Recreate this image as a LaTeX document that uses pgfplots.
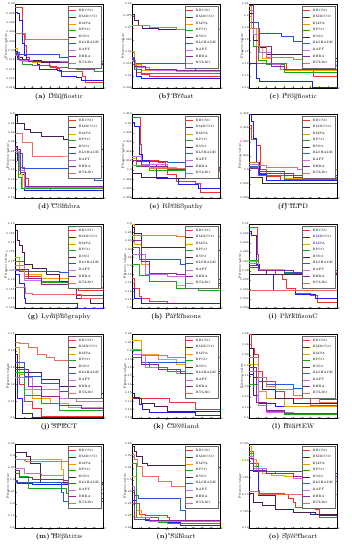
\documentclass[border=0pt]{standalone}
\usepackage{pgfplots}
\pgfplotsset{compat=1.18}
\usepgfplotslibrary{groupplots}
\definecolor{c1}{RGB}{240,50,50}
\definecolor{c2}{RGB}{30,30,240}
\definecolor{c3}{RGB}{240,160,0}
\definecolor{c4}{RGB}{20,170,20}
\definecolor{c5}{RGB}{70,30,80}
\definecolor{c6}{RGB}{40,90,210}
\definecolor{c7}{RGB}{200,110,230}
\definecolor{c8}{RGB}{140,40,150}
\definecolor{c9}{RGB}{230,110,90}
\pgfplotscreateplotcyclelist{algs}{{c1},{c2},{c3},{c4},{c5},{c6},{c7},{c8},{c9}}
\newcommand{\leg}{\legend{BBCSO,BMBCSO,BMPA,BPSO,BSSO,BLSHADE,BAFT,BHBA,BTLBO}}
\newcommand{\subcap}[2]{\textbf{(#1)}~#2}
\begin{document}
\begin{tikzpicture}
\begin{groupplot}[
  group style={group size=3 by 5, horizontal sep=29pt, vertical sep=26pt},
  scale only axis, width=88pt, height=84pt,
  xmin=0, xmax=100, xtick={0,10,...,100},
  cycle list name=algs,
  every axis plot/.append style={const plot, no markers, line width=0.45pt},
  axis line style={line width=0.3pt},
  major tick length=1.5pt, tick style={line width=0.25pt},
  /pgf/number format/assume math mode=true,
  tick label style={font=\fontsize{2.8}{3}\selectfont, inner sep=0.4pt},
  xlabel={Iteration}, ylabel={Fitness value},
  label style={font=\fontsize{3.2}{3.6}\selectfont},
  xlabel style={at={(0.5,0)}, anchor=north, yshift=-5pt, inner sep=0.2pt},
  ylabel style={yshift=-4.8pt},
  xtick pos=left, ytick pos=left,
  xticklabel style={yshift=0.5pt}, yticklabel style={xshift=0.4pt},
  scaled y ticks=false,
  yticklabel style={/pgf/number format/fixed, /pgf/number format/precision=3},
  legend cell align=left,
  legend style={at={(0.985,0.975)}, anchor=north east, font=\fontsize{3.2}{3.6}\selectfont,
    inner sep=0.6pt, row sep=-1.2pt, draw=black!60, line width=0.25pt},
  legend image code/.code={\draw[#1] (0pt,0pt) -- (7pt,0pt);},
  title style={at={(0.5,0)}, anchor=north, yshift=-11.2pt, inner sep=0pt, font=\fontsize{6.6}{7.2}\selectfont},
]
% (a) Diagnostic
\nextgroupplot[ymin=0.012, ymax=0.030, ytick={0.012,0.014,...,0.0301}, title={\subcap{a}{Diagnostic}}]
\addplot coordinates {(0,0.0294)(7,0.0294)(8,0.0236)(10,0.0212)(13,0.0185)(16,0.0178)(38,0.0178)(39,0.0166)(47,0.0162)(50,0.0156)(74,0.0156)(76,0.0145)(80,0.0133)(100,0.0133)};
\addplot coordinates {(0,0.0283)(3,0.0280)(5,0.0265)(8,0.0215)(10,0.0190)(13,0.0178)(25,0.0172)(28,0.0160)(48,0.0158)(52,0.0145)(70,0.0143)(75,0.0136)(100,0.0135)};
\addplot coordinates {(0,0.0205)(2,0.0195)(4,0.0185)(8,0.0178)(20,0.0175)(60,0.0172)(100,0.0170)};
\addplot coordinates {(0,0.0195)(3,0.0182)(8,0.0172)(20,0.0168)(40,0.0165)(70,0.0160)(90,0.0156)(100,0.0156)};
\addplot coordinates {(0,0.0198)(3,0.0185)(8,0.0180)(30,0.0176)(70,0.0172)(100,0.0170)};
\addplot coordinates {(0,0.0197)(5,0.0193)(35,0.0192)(50,0.0186)(75,0.0177)(100,0.0174)};
\addplot coordinates {(0,0.0190)(5,0.0180)(20,0.0177)(60,0.0174)(100,0.0171)};
\addplot coordinates {(0,0.0192)(4,0.0182)(15,0.0178)(50,0.0176)(80,0.0173)(100,0.0172)};
\addplot coordinates {(0,0.0238)(10,0.0238)(12,0.0225)(100,0.0225)};
\leg
% (b) Breast
\nextgroupplot[ymin=0.045, ymax=0.08, ytick={0.045,0.05,...,0.0801}, title={\subcap{b}{Breast}}]
\addplot coordinates {(0,0.0570)(2,0.0550)(5,0.0514)(10,0.0507)(20,0.0500)(100,0.0500)};
\addplot coordinates {(0,0.0568)(2,0.0540)(5,0.0500)(10,0.0492)(100,0.0492)};
\addplot coordinates {(0,0.0604)(2,0.0604)(3,0.0547)(10,0.0525)(50,0.0520)(100,0.0516)};
\addplot coordinates {(0,0.0560)(3,0.0530)(10,0.0512)(100,0.0510)};
\addplot coordinates {(0,0.0757)(2,0.0757)(3,0.0733)(7,0.0712)(12,0.0700)(30,0.0695)(100,0.0688)};
\addplot coordinates {(0,0.0580)(3,0.0554)(60,0.0554)(65,0.0540)(72,0.0526)(100,0.0524)};
\addplot coordinates {(0,0.0565)(4,0.0535)(20,0.0525)(100,0.0520)};
\addplot coordinates {(0,0.0575)(3,0.0540)(15,0.0528)(50,0.0522)(100,0.0522)};
\addplot coordinates {(0,0.0711)(20,0.0702)(50,0.0695)(100,0.0686)};
\leg
% (c) Prognostic
\nextgroupplot[ymin=0.14, ymax=0.21, ytick={0.14,0.15,...,0.2101}, title={\subcap{c}{Prognostic}}]
\addplot coordinates {(0,0.205)(3,0.19)(8,0.161)(40,0.161)(42,0.155)(72,0.155)(73,0.150)(100,0.150)};
\addplot coordinates {(0,0.161)(5,0.161)(8,0.1485)(12,0.1457)(70,0.1457)(72,0.1410)(100,0.1410)};
\addplot coordinates {(0,0.208)(3,0.19)(8,0.175)(15,0.165)(25,0.158)(40,0.155)(100,0.154)};
\addplot coordinates {(0,0.195)(5,0.175)(10,0.163)(20,0.160)(40,0.153)(100,0.153)};
\addplot coordinates {(0,0.202)(5,0.18)(10,0.174)(20,0.168)(68,0.168)(70,0.165)(100,0.165)};
\addplot coordinates {(0,0.195)(10,0.186)(35,0.186)(37,0.183)(50,0.179)(60,0.171)(70,0.162)(80,0.159)(100,0.155)};
\addplot coordinates {(0,0.205)(5,0.185)(12,0.170)(25,0.160)(35,0.156)(100,0.155)};
\addplot coordinates {(0,0.209)(5,0.19)(12,0.175)(25,0.158)(40,0.156)(100,0.155)};
\addplot coordinates {(0,0.19)(10,0.175)(20,0.166)(50,0.164)(75,0.162)(100,0.162)};
\leg
% (d) Coimbra
\nextgroupplot[ymin=0.12, ymax=0.30, ytick={0.12,0.14,...,0.301}, title={\subcap{d}{Coimbra}}]
\addplot coordinates {(0,0.228)(2,0.215)(4,0.200)(6,0.185)(10,0.162)(15,0.142)(38,0.142)(40,0.137)(100,0.137)};
\addplot coordinates {(0,0.23)(3,0.20)(6,0.17)(10,0.137)(100,0.137)};
\addplot coordinates {(0,0.22)(4,0.17)(8,0.140)(100,0.140)};
\addplot coordinates {(0,0.215)(4,0.165)(7,0.141)(100,0.140)};
\addplot coordinates {(0,0.298)(3,0.280)(10,0.268)(17,0.262)(30,0.252)(45,0.252)(55,0.245)(70,0.236)(92,0.236)(93,0.225)(100,0.222)};
\addplot coordinates {(0,0.215)(8,0.184)(65,0.184)(75,0.173)(88,0.173)(90,0.159)(100,0.159)};
\addplot coordinates {(0,0.22)(5,0.18)(10,0.144)(100,0.144)};
\addplot coordinates {(0,0.225)(6,0.175)(12,0.145)(100,0.145)};
\addplot coordinates {(0,0.258)(7,0.258)(8,0.239)(20,0.210)(88,0.210)(90,0.188)(100,0.188)};
\leg
% (e) Retinopathy
\nextgroupplot[ymin=0.294, ymax=0.312, ytick={0.294,0.296,...,0.3121}, title={\subcap{e}{Retinopathy}}]
\addplot coordinates {(0,0.3113)(8,0.3113)(9,0.3056)(11,0.3020)(30,0.3016)(38,0.3005)(40,0.2990)(50,0.2975)(72,0.2971)(78,0.2953)(100,0.2953)};
\addplot coordinates {(0,0.3102)(3,0.3093)(8,0.3034)(12,0.3020)(20,0.3013)(28,0.2982)(50,0.2982)(52,0.2969)(75,0.2960)(100,0.2957)};
\addplot coordinates {(0,0.3025)(5,0.3010)(20,0.3005)(50,0.3000)(100,0.2995)};
\addplot coordinates {(0,0.3030)(5,0.3008)(20,0.3000)(60,0.2997)(100,0.2994)};
\addplot coordinates {(0,0.2993)(10,0.2985)(40,0.2982)(100,0.2979)};
\addplot coordinates {(0,0.3020)(5,0.3018)(40,0.3017)(60,0.3010)(80,0.3005)(100,0.2998)};
\addplot coordinates {(0,0.3030)(10,0.3012)(40,0.3003)(100,0.2997)};
\addplot coordinates {(0,0.3020)(10,0.3008)(40,0.3002)(100,0.2996)};
\addplot coordinates {(0,0.3010)(20,0.3003)(60,0.3000)(100,0.2999)};
\leg
% (f) ILPD
\nextgroupplot[ymin=0.296, ymax=0.308, ytick={0.296,0.298,...,0.3081}, title={\subcap{f}{ILPD}}]
\addplot coordinates {(0,0.3064)(3,0.3044)(8,0.3036)(13,0.3001)(20,0.2991)(35,0.2986)(100,0.2983)};
\addplot coordinates {(0,0.3079)(3,0.3070)(5,0.3046)(8,0.3011)(12,0.2994)(20,0.2986)(100,0.2980)};
\addplot coordinates {(0,0.3011)(10,0.2995)(40,0.2988)(100,0.2986)};
\addplot coordinates {(0,0.3004)(10,0.2993)(40,0.2987)(100,0.2985)};
\addplot coordinates {(0,0.2989)(15,0.2981)(100,0.2980)};
\addplot coordinates {(0,0.3005)(10,0.2998)(40,0.2992)(100,0.2990)};
\addplot coordinates {(0,0.3008)(10,0.2996)(50,0.2990)(100,0.2988)};
\addplot coordinates {(0,0.3002)(10,0.2995)(50,0.2989)(100,0.2987)};
\addplot coordinates {(0,0.3011)(10,0.3007)(20,0.3004)(55,0.3001)(100,0.3000)};
\leg
% (g) Lymphography
\nextgroupplot[ymin=0.145, ymax=0.19, ytick={0.145,0.15,...,0.1901}, title={\subcap{g}{Lymphography}}]
\addplot coordinates {(0,0.1650)(10,0.1620)(30,0.1595)(68,0.1590)(72,0.1547)(100,0.1543)};
\addplot coordinates {(0,0.1630)(5,0.1584)(10,0.1501)(12,0.1474)(70,0.1474)(71,0.1450)(100,0.1450)};
\addplot coordinates {(0,0.1720)(5,0.1650)(10,0.1630)(30,0.1611)(70,0.1584)(90,0.1556)(100,0.1529)};
\addplot coordinates {(0,0.1700)(10,0.1610)(30,0.1590)(70,0.1560)(100,0.1547)};
\addplot coordinates {(0,0.1867)(3,0.1812)(5,0.1785)(8,0.1748)(11,0.1684)(20,0.1665)(35,0.1630)(50,0.1593)(70,0.1501)(85,0.1474)(100,0.1465)};
\addplot coordinates {(0,0.1650)(5,0.1648)(45,0.1648)(50,0.1639)(70,0.1620)(100,0.1584)};
\addplot coordinates {(0,0.1680)(10,0.1600)(30,0.1580)(70,0.1560)(100,0.1538)};
\addplot coordinates {(0,0.1660)(15,0.1611)(30,0.1580)(70,0.1520)(100,0.1492)};
\addplot coordinates {(0,0.1560)(10,0.1560)(12,0.1530)(20,0.1525)(75,0.1501)(100,0.1490)};
\leg
% (h) Parkinsons
\nextgroupplot[ymin=0.1, ymax=0.3, ytick={0.1,0.12,...,0.301}, title={\subcap{h}{Parkinsons}}]
\addplot coordinates {(0,0.1715)(3,0.1465)(8,0.1286)(10,0.1237)(20,0.1156)(40,0.1107)(100,0.1107)};
\addplot coordinates {(0,0.1470)(3,0.1230)(10,0.1107)(100,0.1107)};
\addplot coordinates {(0,0.299)(3,0.253)(10,0.204)(20,0.1627)(50,0.1546)(90,0.1465)(100,0.1189)};
\addplot coordinates {(0,0.204)(8,0.1790)(20,0.1627)(50,0.1465)(75,0.1424)(100,0.1367)};
\addplot coordinates {(0,0.2935)(3,0.2772)(10,0.2447)(60,0.2447)(62,0.2366)(100,0.2366)};
\addplot coordinates {(0,0.2447)(7,0.2447)(8,0.2163)(50,0.2163)(55,0.2041)(70,0.1878)(85,0.1675)(100,0.1675)};
\addplot coordinates {(0,0.2285)(15,0.1796)(40,0.1755)(60,0.1552)(100,0.1471)};
\addplot coordinates {(0,0.2610)(10,0.2122)(20,0.1837)(50,0.1796)(75,0.1594)(100,0.1512)};
\addplot coordinates {(0,0.2732)(50,0.2720)(100,0.2710)};
\leg
% (i) ParkinsonC
\nextgroupplot[ymin=0.052, ymax=0.07, ytick={0.052,0.054,...,0.0701}, title={\subcap{i}{ParkinsonC}}]
\addplot coordinates {(0,0.0693)(8,0.0693)(9,0.0636)(11,0.0600)(30,0.0592)(38,0.0581)(42,0.0563)(52,0.0552)(70,0.0548)(78,0.0533)(100,0.0529)};
\addplot coordinates {(0,0.0685)(3,0.0676)(8,0.0614)(12,0.0600)(20,0.0592)(28,0.0559)(50,0.0559)(52,0.0550)(75,0.0541)(100,0.0537)};
\addplot coordinates {(0,0.0620)(10,0.0603)(40,0.0597)(100,0.0593)};
\addplot coordinates {(0,0.0622)(10,0.0601)(40,0.0595)(100,0.0592)};
\addplot coordinates {(0,0.0592)(50,0.0592)(100,0.0590)};
\addplot coordinates {(0,0.0608)(10,0.0601)(40,0.0597)(70,0.0600)(100,0.0594)};
\addplot coordinates {(0,0.0615)(10,0.0600)(50,0.0595)(100,0.0592)};
\addplot coordinates {(0,0.0612)(10,0.0600)(50,0.0594)(100,0.0591)};
\addplot coordinates {(0,0.0559)(100,0.0559)};
\leg
% (j) SPECT
\nextgroupplot[ymin=0.1, ymax=0.15, ytick={0.1,0.11,...,0.1501}, title={\subcap{j}{SPECT}}]
\addplot coordinates {(0,0.1423)(5,0.1199)(10,0.1098)(20,0.1057)(30,0.1012)(100,0.1006)};
\addplot coordinates {(0,0.1382)(3,0.1118)(8,0.1027)(20,0.1002)(100,0.1002)};
\addplot coordinates {(0,0.1423)(5,0.1260)(10,0.1169)(20,0.1118)(40,0.1087)(60,0.1067)(100,0.1047)};
\addplot coordinates {(0,0.1270)(10,0.1138)(30,0.1087)(50,0.1047)(100,0.1027)};
\addplot coordinates {(0,0.1301)(10,0.1270)(30,0.1230)(50,0.1189)(70,0.1169)(90,0.1148)(100,0.1138)};
\addplot coordinates {(0,0.1331)(10,0.1250)(30,0.1209)(50,0.1159)(80,0.1118)(100,0.1108)};
\addplot coordinates {(0,0.1240)(20,0.1169)(50,0.1118)(70,0.1098)(100,0.1057)};
\addplot coordinates {(0,0.1291)(15,0.1189)(30,0.1128)(50,0.1077)(75,0.1057)(100,0.1030)};
\addplot coordinates {(0,0.1453)(5,0.1443)(15,0.1423)(25,0.1382)(35,0.1362)(45,0.1341)(60,0.1331)(70,0.1321)(80,0.1311)(100,0.1301)};
\leg
% (k) Cleveland
\nextgroupplot[ymin=0.12, ymax=0.22, ytick={0.12,0.13,...,0.2201}, title={\subcap{k}{Cleveland}}]
\addplot coordinates {(0,0.1435)(40,0.1435)(42,0.1386)(70,0.1386)(72,0.1305)(100,0.1305)};
\addplot coordinates {(0,0.1443)(8,0.1362)(12,0.1301)(20,0.1268)(70,0.1268)(72,0.1228)(100,0.1228)};
\addplot coordinates {(0,0.2127)(10,0.1963)(30,0.1902)(50,0.1841)(80,0.1760)(100,0.1719)};
\addplot coordinates {(0,0.2004)(10,0.1861)(20,0.1800)(40,0.1760)(70,0.1739)(100,0.1719)};
\addplot coordinates {(0,0.1492)(3,0.1435)(10,0.1374)(25,0.1345)(40,0.1280)(100,0.1272)};
\addplot coordinates {(0,0.1922)(10,0.1861)(60,0.1861)(65,0.1800)(95,0.1760)(100,0.1650)};
\addplot coordinates {(0,0.1963)(15,0.1800)(30,0.1780)(50,0.1739)(100,0.1719)};
\addplot coordinates {(0,0.2024)(10,0.1841)(30,0.1780)(55,0.1739)(100,0.1727)};
\addplot coordinates {(0,0.2024)(10,0.1943)(40,0.1922)(100,0.1902)};
\leg
% (l) HeartEW
\nextgroupplot[ymin=0.1, ymax=0.26, ytick={0.1,0.12,...,0.261}, title={\subcap{l}{HeartEW}}]
\addplot coordinates {(0,0.259)(3,0.232)(6,0.222)(10,0.190)(15,0.170)(30,0.151)(40,0.138)(70,0.125)(100,0.122)};
\addplot coordinates {(0,0.183)(5,0.144)(10,0.128)(30,0.123)(100,0.120)};
\addplot coordinates {(0,0.203)(10,0.151)(20,0.138)(40,0.122)(100,0.112)};
\addplot coordinates {(0,0.164)(10,0.125)(20,0.112)(40,0.107)(100,0.107)};
\addplot coordinates {(0,0.232)(5,0.177)(15,0.154)(30,0.138)(50,0.128)(100,0.125)};
\addplot coordinates {(0,0.216)(10,0.170)(20,0.164)(40,0.164)(50,0.157)(80,0.135)(100,0.127)};
\addplot coordinates {(0,0.190)(10,0.125)(20,0.111)(50,0.109)(100,0.108)};
\addplot coordinates {(0,0.196)(8,0.131)(20,0.115)(40,0.109)(100,0.108)};
\addplot coordinates {(0,0.216)(10,0.177)(20,0.161)(30,0.154)(50,0.144)(80,0.131)(100,0.125)};
\leg
% (m) Hepatitis
\nextgroupplot[ymin=0.1, ymax=0.45, ytick={0.1,0.15,...,0.451}, title={\subcap{m}{Hepatitis}}]
\addplot coordinates {(0,0.292)(3,0.285)(20,0.282)(100,0.276)};
\addplot coordinates {(0,0.294)(3,0.286)(20,0.284)(100,0.278)};
\addplot coordinates {(0,0.387)(48,0.387)(52,0.345)(55,0.287)(100,0.287)};
\addplot coordinates {(0,0.329)(5,0.315)(15,0.266)(57,0.266)(58,0.245)(60,0.223)(100,0.223)};
\addplot coordinates {(0,0.416)(12,0.416)(13,0.40)(17,0.37)(28,0.37)(29,0.29)(100,0.29)};
\addplot coordinates {(0,0.30)(3,0.29)(50,0.29)(52,0.25)(55,0.21)(97,0.21)(100,0.12)};
\addplot coordinates {(0,0.35)(10,0.33)(30,0.32)(55,0.30)(60,0.26)(100,0.255)};
\addplot coordinates {(0,0.34)(5,0.31)(20,0.305)(55,0.30)(60,0.245)(100,0.24)};
\addplot coordinates {(0,0.385)(10,0.383)(12,0.378)(100,0.378)};
\leg
% (n) Saheart
\nextgroupplot[ymin=0.26, ymax=0.33, ytick={0.26,0.27,...,0.3301}, title={\subcap{n}{Saheart}}]
\addplot coordinates {(0,0.2804)(8,0.2719)(15,0.2705)(40,0.2691)(42,0.2663)(100,0.2663)};
\addplot coordinates {(0,0.2832)(5,0.2691)(15,0.2663)(40,0.2649)(55,0.2620)(100,0.2620)};
\addplot coordinates {(0,0.3029)(5,0.2747)(10,0.2691)(20,0.2663)(100,0.2640)};
\addplot coordinates {(0,0.3142)(5,0.2691)(30,0.2649)(40,0.2640)(100,0.2640)};
\addplot coordinates {(0,0.3283)(2,0.3241)(5,0.3198)(12,0.3142)(17,0.3120)(60,0.3120)(65,0.3108)(100,0.3100)};
\addplot coordinates {(0,0.2945)(3,0.2874)(7,0.2846)(50,0.2846)(55,0.2747)(60,0.2663)(100,0.2663)};
\addplot coordinates {(0,0.2945)(3,0.2691)(20,0.2654)(100,0.2649)};
\addplot coordinates {(0,0.2916)(3,0.2677)(20,0.2663)(100,0.2657)};
\addplot coordinates {(0,0.3213)(3,0.3170)(6,0.3114)(12,0.3029)(30,0.2987)(45,0.2945)(60,0.2902)(70,0.2860)(75,0.2818)(100,0.2818)};
\leg
% (o) Spectheart
\nextgroupplot[ymin=0.12, ymax=0.145, ytick={0.12,0.125,...,0.1451}, title={\subcap{o}{Spectheart}}]
\addplot coordinates {(0,0.1429)(5,0.1394)(10,0.1313)(12,0.1303)(40,0.1301)(45,0.1288)(50,0.1278)(52,0.1263)(75,0.1257)(80,0.1232)(100,0.1230)};
\addplot coordinates {(0,0.1373)(5,0.1368)(10,0.1298)(28,0.1298)(30,0.1257)(50,0.1247)(70,0.1242)(80,0.1237)(100,0.1235)};
\addplot coordinates {(0,0.1444)(3,0.1404)(8,0.1373)(15,0.1363)(25,0.1358)(40,0.1355)(60,0.1348)(100,0.1345)};
\addplot coordinates {(0,0.1424)(5,0.1383)(10,0.1368)(30,0.1363)(50,0.1353)(60,0.1338)(100,0.1338)};
\addplot coordinates {(0,0.1303)(5,0.1278)(15,0.1268)(30,0.1257)(50,0.1247)(75,0.1240)(100,0.1237)};
\addplot coordinates {(0,0.1394)(5,0.1378)(15,0.1368)(65,0.1368)(70,0.1363)(100,0.1348)};
\addplot coordinates {(0,0.1414)(5,0.1378)(20,0.1363)(50,0.1348)(100,0.1343)};
\addplot coordinates {(0,0.1409)(5,0.1373)(20,0.1363)(50,0.1353)(100,0.1346)};
\addplot coordinates {(0,0.1308)(10,0.1301)(100,0.1298)};
\leg
\end{groupplot}
\pgfresetboundingbox
\path ([xshift=-15pt,yshift=4pt]group c1r1.north west) rectangle ([xshift=14pt,yshift=-22pt]group c3r5.south east);
\end{tikzpicture}
\end{document}
